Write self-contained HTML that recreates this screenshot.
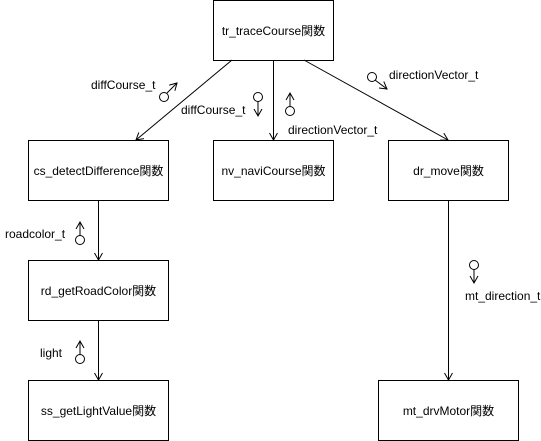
<!DOCTYPE html>
<html><head><meta charset="utf-8"><style>
body{margin:0;background:#fff}
svg{display:block}
text{font-family:"Liberation Sans","Noto Sans CJK JP",sans-serif;font-size:12px;fill:#000}
</style></head><body>
<svg width="541" height="441" viewBox="0 0 541 441">
<defs><marker id="a" markerWidth="10" markerHeight="10" refX="8" refY="5" orient="auto" markerUnits="userSpaceOnUse"><path d="M1,1 L8,5 L1,9" fill="none" stroke="#000" stroke-width="1"/></marker></defs>
<g fill="#fff" stroke="#000" stroke-width="1">
<rect x="213.5" y="0.5" width="120" height="60"/>
<rect x="28.5" y="140.5" width="140" height="60"/>
<rect x="213.5" y="140.5" width="120" height="60"/>
<rect x="388.5" y="140.5" width="120" height="60"/>
<rect x="28.5" y="260.5" width="140" height="60"/>
<rect x="28.5" y="380.5" width="140" height="60"/>
<rect x="378.5" y="380.5" width="140" height="60"/>
</g>
<g stroke="#000" stroke-width="1" fill="none" marker-end="url(#a)">
<line x1="232" y1="60" x2="136" y2="140"/>
<line x1="273.5" y1="60" x2="273.5" y2="140"/>
<line x1="304" y1="60" x2="448" y2="140"/>
<line x1="98.5" y1="200" x2="98.5" y2="260"/>
<line x1="98.5" y1="320" x2="98.5" y2="380"/>
<line x1="448.5" y1="200" x2="448.5" y2="380"/>
</g>
<g stroke="#000" stroke-width="1" fill="none">
<circle cx="164" cy="97" r="4.5"/><line x1="167" y1="93" x2="177" y2="83" marker-end="url(#a)"/>
<circle cx="258" cy="97" r="4.5"/><line x1="258" y1="101.5" x2="258" y2="116" marker-end="url(#a)"/>
<circle cx="290" cy="111" r="4.5"/><line x1="290" y1="106.5" x2="290" y2="93" marker-end="url(#a)"/>
<circle cx="372" cy="77" r="4.5"/><line x1="375" y1="80" x2="387" y2="89" marker-end="url(#a)"/>
<circle cx="80" cy="240" r="4.5"/><line x1="80" y1="235.5" x2="80" y2="222" marker-end="url(#a)"/>
<circle cx="80" cy="359" r="4.5"/><line x1="80" y1="354.5" x2="80" y2="341" marker-end="url(#a)"/>
<circle cx="474" cy="265" r="4.5"/><line x1="474" y1="269.5" x2="474" y2="283" marker-end="url(#a)"/>
</g>
<g text-anchor="middle">
<text x="273.5" y="35">tr_traceCourse関数</text>
<text x="98.5" y="175">cs_detectDifference関数</text>
<text x="273.5" y="175">nv_naviCourse関数</text>
<text x="448.5" y="175">dr_move関数</text>
<text x="98.5" y="295">rd_getRoadColor関数</text>
<text x="98.5" y="415">ss_getLightValue関数</text>
<text x="448.5" y="415">mt_drvMotor関数</text>
</g>
<text x="91" y="89">diffCourse_t</text>
<text x="181" y="114">diffCourse_t</text>
<text x="288" y="134">directionVector_t</text>
<text x="389" y="79">directionVector_t</text>
<text x="5" y="238">roadcolor_t</text>
<text x="40" y="357">light</text>
<text x="465" y="300">mt_direction_t</text>
</svg>
</body></html>
